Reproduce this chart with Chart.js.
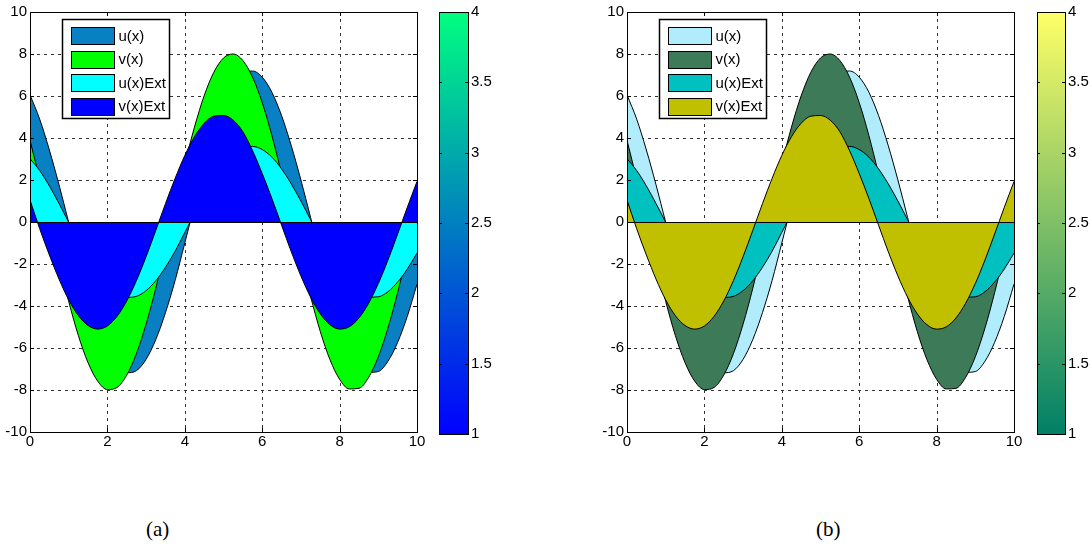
<!DOCTYPE html>
<html>
<head>
<meta charset="utf-8">
<script src="https://cdn.jsdelivr.net/npm/chart.js@4.4.1/dist/chart.umd.min.js"></script>
<style>
  html, body { margin: 0; padding: 0; background: #fff; }
  #page { position: relative; width: 1091px; height: 552px; overflow: hidden; background: #fff; }
  #page canvas { position: absolute; top: 0; }
  .cap { position: absolute; font-family: "Liberation Serif", "Times New Roman", serif; font-size: 21px; color: #000; }
</style>
</head>
<body>
<div id="page">
  <canvas id="plotA" width="430" height="460" style="left:0px"></canvas>
  <canvas id="barA" width="65" height="460" style="left:435px"></canvas>
  <canvas id="plotB" width="430" height="460" style="left:597px"></canvas>
  <canvas id="barB" width="59" height="460" style="left:1032px"></canvas>
  <div class="cap" style="left:146px;top:517px">(a)</div>
  <div class="cap" style="left:816px;top:517px">(b)</div>
</div>
<script>
// sample positions along x
const xValues = [0, 0.25, 0.5, 0.75, 1, 1.25, 1.5, 1.75, 2, 2.25, 2.5, 2.75, 3, 3.25, 3.5, 3.75, 4, 4.25, 4.5, 4.75,
  5, 5.25, 5.5, 5.75, 6, 6.25, 6.5, 6.75, 7, 7.25, 7.5, 7.75, 8, 8.25, 8.5, 8.75, 9, 9.25, 9.5, 9.75, 10];

// series values
const uValues = [6.05, 4.90, 3.43, 1.77, -0.02, -1.80, -3.46, -4.92, -6.07, -6.84, -7.18, -7.08, -6.54, -5.60, -4.32,
  -2.78, -1.00, 0.80, 2.54, 4.13, 5.46, 6.45, 7.04, 7.19, 6.90, 6.18, 5.07, 3.64, 2.00, 0.22, -1.57, -3.25, -4.75,
  -5.94, -6.77, -7.16, -7.12, -6.63, -5.73, -4.49, -2.96];
const vValues = [3.89, 2.04, 0.06, -1.92, -3.78, -5.41, -6.70, -7.58, -7.98, -7.88, -7.29, -6.27, -4.86, -3.16, -1.19,
  0.80, 2.75, 4.52, 6.01, 7.13, 7.81, 8.00, 7.69, 6.90, 5.69, 4.12, 2.29, 0.33, -1.66, -3.54, -5.21, -6.55, -7.49,
  -7.95, -7.92, -7.40, -6.42, -5.05, -3.36, -1.46, 0.54];
const uExtValues = [3.02, 2.45, 1.72, 0.88, -0.01, -0.90, -1.73, -2.46, -3.03, -3.42, -3.59, -3.54, -3.27, -2.80, -2.16,
  -1.39, -0.50, 0.40, 1.27, 2.07, 2.73, 3.23, 3.52, 3.60, 3.45, 3.09, 2.53, 1.82, 1.00, 0.11, -0.78, -1.63, -2.37,
  -2.97, -3.38, -3.58, -3.56, -3.32, -2.86, -2.24, -1.48];
const vExtValues = [1.05, -0.32, -1.57, -2.72, -3.71, -4.46, -4.93, -5.10, -4.95, -4.49, -3.76, -2.79, -1.65, -0.40, 0.87,
  2.08, 3.17, 4.06, 4.70, 5.04, 5.07, 4.85, 4.30, 3.40, 2.31, 1.12, -0.15, -1.41, -2.57, -3.58, -4.37, -4.89, -5.10,
  -4.99, -4.57, -3.87, -2.93, -1.81, -0.57, 0.70, 1.93];

const seriesNames = ['u(x)', 'v(x)', 'u(x)Ext', 'v(x)Ext'];

// axis ranges and tick steps
const xRange = [0, 10];
const xStep = 2;
const yRange = [-10, 10];
const yStep = 2;
const barRange = [1, 4];
const barStep = 0.5;

// fill colours per panel, and the colour map of each colour bar
const paletteA = ['#0a80c4', '#00ff00', '#00ffff', '#0000ff'];
const paletteB = ['#b0ecfc', '#3c7a58', '#00c0c0', '#c0c000'];
const winterMap = ['#0000ff', '#00ff80'];
const summerMap = ['#008066', '#ffff66'];

const tickFont = { family: '"Liberation Sans", Arial, sans-serif', size: 15 };
const fontStr = tickFont.size + 'px ' + tickFont.family;
const plainNumber = v => String(Math.round(v * 100) / 100);

// dotted grid beneath the patches
const gridUnder = {
  id: 'gridUnder',
  beforeDatasetsDraw(chart) {
    const { ctx, chartArea: a, scales: { x, y } } = chart;
    ctx.save();
    ctx.strokeStyle = '#333';
    ctx.lineWidth = 1;
    ctx.setLineDash([3, 4]);
    ctx.beginPath();
    x.ticks.forEach(t => {
      if (t.value <= xRange[0] || t.value >= xRange[1]) return;
      const px = Math.round(x.getPixelForValue(t.value)) + 0.5;
      ctx.moveTo(px, a.top); ctx.lineTo(px, a.bottom);
    });
    y.ticks.forEach(t => {
      if (t.value <= yRange[0] || t.value >= yRange[1] || t.value === 0) return;
      const py = Math.round(y.getPixelForValue(t.value)) + 0.5;
      ctx.moveTo(a.left, py); ctx.lineTo(a.right, py);
    });
    ctx.stroke();
    ctx.restore();
  }
};

// baseline, box, inward ticks and boxed legend over the patches
const frameOver = {
  id: 'frameOver',
  afterDatasetsDraw(chart) {
    const { ctx, chartArea: a, scales: { x, y } } = chart;
    ctx.save();
    ctx.strokeStyle = '#000';
    ctx.lineWidth = 1;
    ctx.setLineDash([]);
    // zero baseline of the patches
    const y0 = Math.round(y.getPixelForValue(0)) + 0.5;
    ctx.beginPath();
    ctx.moveTo(a.left, y0); ctx.lineTo(a.right, y0);
    ctx.stroke();
    // axes box
    ctx.strokeRect(Math.round(a.left) + 0.5, Math.round(a.top) + 0.5,
      Math.round(a.right - a.left), Math.round(a.bottom - a.top));
    // inward ticks on all four sides
    const tl = 4;
    ctx.beginPath();
    x.ticks.forEach(t => {
      const px = Math.round(x.getPixelForValue(t.value)) + 0.5;
      ctx.moveTo(px, a.bottom); ctx.lineTo(px, a.bottom - tl);
      ctx.moveTo(px, a.top); ctx.lineTo(px, a.top + tl);
    });
    y.ticks.forEach(t => {
      const py = Math.round(y.getPixelForValue(t.value)) + 0.5;
      ctx.moveTo(a.left, py); ctx.lineTo(a.left + tl, py);
      ctx.moveTo(a.right, py); ctx.lineTo(a.right - tl, py);
    });
    ctx.stroke();

    // legend box
    const bx = Math.round(a.left) + 32.5, by = Math.round(a.top) + 7.5, bw = 107, bh = 99;
    ctx.fillStyle = '#fff';
    ctx.fillRect(bx, by, bw, bh);
    ctx.lineWidth = 1.5;
    ctx.strokeRect(bx, by, bw, bh);
    ctx.lineWidth = 1;
    ctx.font = fontStr;
    ctx.textAlign = 'left';
    ctx.textBaseline = 'middle';
    chart.data.datasets.forEach((ds, i) => {
      const cy = by + 16 + 23.5 * i;
      const px = bx + 9, pw = 43, ph = 17;
      ctx.fillStyle = ds.backgroundColor;
      ctx.fillRect(px, Math.round(cy - ph / 2) + 0.5, pw, ph);
      ctx.strokeRect(px, Math.round(cy - ph / 2) + 0.5, pw, ph);
      ctx.fillStyle = '#000';
      ctx.fillText(ds.label, bx + 56, cy + 1);
    });
    ctx.restore();
  }
};

function makeAreaChart(id, palette) {
  const series = [uValues, vValues, uExtValues, vExtValues];
  const datasets = series.map((vals, i) => ({
    label: seriesNames[i],
    data: xValues.map((xv, k) => ({ x: xv, y: vals[k] })),
    backgroundColor: palette[i],
    borderColor: '#000',
    borderWidth: 1,
    fill: 'origin',
    pointRadius: 0,
    cubicInterpolationMode: 'monotone',
    // later series are painted over earlier ones
    order: series.length - 1 - i
  }));
  return new Chart(document.getElementById(id), {
    type: 'line',
    data: { datasets },
    options: {
      responsive: false,
      devicePixelRatio: 1,
      animation: false,
      events: [],
      layout: { padding: { left: 0, top: 11, right: 13, bottom: 0 } },
      plugins: { legend: { display: false }, tooltip: { enabled: false } },
      scales: {
        x: {
          type: 'linear', min: xRange[0], max: xRange[1],
          ticks: { stepSize: xStep, color: '#000', padding: 1, callback: plainNumber,
            font: { family: tickFont.family, size: tickFont.size } },
          grid: { display: false, drawTicks: false },
          border: { display: false },
          afterFit(s) { s.height = 28; }
        },
        y: {
          type: 'linear', min: yRange[0], max: yRange[1],
          ticks: { stepSize: yStep, color: '#000', padding: 3, callback: plainNumber,
            font: { family: tickFont.family, size: tickFont.size } },
          grid: { display: false, drawTicks: false },
          border: { display: false },
          afterFit(s) { s.width = 30; }
        }
      }
    },
    plugins: [gridUnder, frameOver]
  });
}

// border and inward ticks of a colour bar
const barFrame = {
  id: 'barFrame',
  afterDatasetsDraw(chart) {
    const { ctx, chartArea: a, scales: { y } } = chart;
    ctx.save();
    ctx.strokeStyle = '#000';
    ctx.lineWidth = 1;
    ctx.strokeRect(Math.round(a.left) + 0.5, Math.round(a.top) + 0.5,
      Math.round(a.right - a.left), Math.round(a.bottom - a.top));
    ctx.beginPath();
    y.ticks.forEach(t => {
      const py = Math.round(y.getPixelForValue(t.value)) + 0.5;
      ctx.moveTo(a.left, py); ctx.lineTo(a.left + 3, py);
      ctx.moveTo(a.right, py); ctx.lineTo(a.right - 3, py);
    });
    ctx.stroke();
    ctx.restore();
  }
};

function makeColorbar(id, cmap, padLeft, axisWidth) {
  return new Chart(document.getElementById(id), {
    type: 'bar',
    data: {
      labels: [''],
      datasets: [{
        data: [[barRange[0], barRange[1]]],
        backgroundColor(c) {
          const a = c.chart.chartArea;
          if (!a) return cmap[0];
          const g = c.chart.ctx.createLinearGradient(0, a.bottom, 0, a.top);
          g.addColorStop(0, cmap[0]);
          g.addColorStop(1, cmap[1]);
          return g;
        },
        borderWidth: 0,
        barPercentage: 1,
        categoryPercentage: 1
      }]
    },
    options: {
      responsive: false,
      devicePixelRatio: 1,
      animation: false,
      events: [],
      layout: { padding: { left: padLeft, top: 11, right: 0, bottom: 26 } },
      plugins: { legend: { display: false }, tooltip: { enabled: false } },
      scales: {
        x: { display: false },
        y: {
          position: 'right', min: barRange[0], max: barRange[1],
          ticks: { stepSize: barStep, color: '#000', padding: 3, callback: plainNumber,
            font: { family: tickFont.family, size: tickFont.size } },
          grid: { display: false, drawTicks: false },
          border: { display: false },
          afterFit(s) { s.width = axisWidth; }
        }
      }
    },
    plugins: [barFrame]
  });
}

makeAreaChart('plotA', paletteA);
makeAreaChart('plotB', paletteB);
makeColorbar('barA', winterMap, 4, 32);
makeColorbar('barB', summerMap, 5, 26);
</script>
</body>
</html>
